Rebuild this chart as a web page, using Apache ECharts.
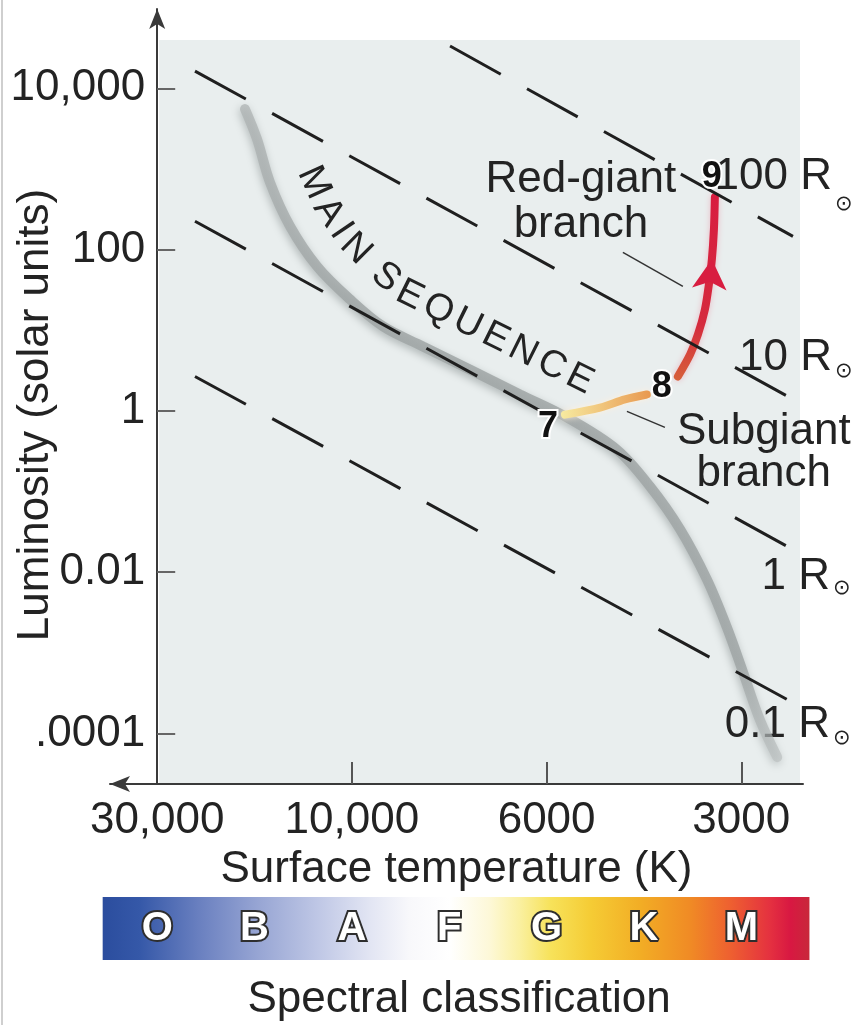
<!DOCTYPE html>
<html>
<head>
<meta charset="utf-8">
<title>H-R diagram: evolution of a Sun-like star</title>
<script src="https://cdn.jsdelivr.net/npm/echarts@6/dist/echarts.min.js"></script>
<style>
  html, body { margin: 0; padding: 0; background: #ffffff; }
  #chart { width: 862px; height: 1025px; }
</style>
</head>
<body>
<div id="chart"></div>
<script>
// ---- Axis ticks -------------------------------------------------------
const tempTicks = [30000, 10000, 6000, 3000];            // K
const tempTickLabels = ['30,000', '10,000', '6000', '3000'];
const lumTicks = [10000, 100, 1, 0.01, 0.0001];          // solar units
const lumTickLabels = ['10,000', '100', '1', '0.01', '.0001'];

// ---- Main sequence (temperature K, luminosity L_sun) -----------------
const mainSeqTemp = [18280, 17080, 15880, 14180, 12170, 10110, 9220, 8300, 7340, 6435,
                     5580, 4670, 4150, 3730, 3390, 3160, 2980, 2810, 2640];
const mainSeqLum  = [5520, 2340, 685, 195, 62, 24.2, 11.2, 6.3, 3.27, 1.60,
                     0.83, 0.33, 0.115, 0.034, 0.0081, 0.0021, 0.00057, 0.00015, 0.000051];

// ---- Subgiant branch (stage 7 -> 8) ----------------------------------
const subgiantTemp = [5620, 4960, 4540, 4200];
const subgiantLum  = [0.90, 1.10, 1.39, 1.60];

// ---- Red-giant branch (stage 8 -> 9) ---------------------------------
const redGiantTemp = [3760, 3600, 3500, 3415, 3367, 3331, 3307, 3296];
const redGiantLum  = [2.67, 5.0, 8.9, 18.1, 37, 76, 179, 446];

// ---- Lines of constant radius ----------------------------------------
const radiusNames     = ['100 R', '10 R', '1 R', '0.1 R'];
const radiusStartTemp = [7730, 24240, 24240, 24240];
const radiusStartLum  = [33400, 16350, 225, 2.67];
const radiusEndTemp   = [2496, 2541, 2541, 2541];
const radiusEndLum    = [146, 1.51, 0.0207, 0.000261];

// ---- Spectral classes and evolutionary stages ------------------------
const spectralClasses = ['O', 'B', 'A', 'F', 'G', 'K', 'M'];
const stageLabels = ['7', '8', '9'];

// ---------------------------------------------------------------------
const FONT = '"Liberation Sans", Arial, Helvetica, sans-serif';
const INK = '#232323';
const FS = 44;

// Temperature axis: log spacing between successive ticks, ticks evenly spaced
const logTempTicks = tempTicks.map(Math.log10);
function tempToAxis(T) {
  const lt = Math.log10(T);
  let i = 0;
  while (i < logTempTicks.length - 2 && lt < logTempTicks[i + 1]) i++;
  return i + (logTempTicks[i] - lt) / (logTempTicks[i] - logTempTicks[i + 1]);
}
const toPoint = (T, L) => [tempToAxis(T), Math.log10(L)];
const zip = (ts, ls) => ts.map((t, i) => toPoint(t, ls[i]));

const mainSeq = zip(mainSeqTemp, mainSeqLum);
const subgiant = zip(subgiantTemp, subgiantLum);
const redGiant = zip(redGiantTemp, redGiantLum);
const arrowIndex = 5;

const tempTickPos = tempTicks.map(tempToAxis);
const lumTickPos = lumTicks.map(Math.log10);

// grid geometry: 194.7 px per temperature tick step, 80.55 px per luminosity decade
const GRID_LEFT = 110, GRID_RIGHT = 59, GRID_TOP = 9, GRID_BOTTOM = 241;
const X_MIN = -0.2424, X_MAX = 3.3169;
const Y_MIN = -4.6257, Y_MAX = 4.9832;
const Y_AXIS_SHIFT = 47.2;   // temperature 30,000 K sits this far right of the grid edge

const chart = echarts.init(document.getElementById('chart'));

const series = [
  {
    name: 'Main sequence', type: 'line', data: mainSeq, smooth: 0.35,
    symbol: 'none', z: 2, silent: true,
    lineStyle: {
      width: 10, cap: 'round',
      color: new echarts.graphic.LinearGradient(0, 0, 0, 1, [
        { offset: 0, color: 'rgba(175,180,180,0.75)' },
        { offset: 0.3, color: 'rgba(160,166,166,0.85)' },
        { offset: 0.85, color: 'rgba(160,166,166,0.85)' },
        { offset: 1, color: 'rgba(185,190,190,0.6)' }
      ]),
      shadowBlur: 9, shadowColor: 'rgba(80,90,90,0.45)', shadowOffsetY: 3, shadowOffsetX: -1
    }
  },
  {
    name: 'Subgiant branch', type: 'line', data: subgiant, smooth: 0.3,
    symbol: 'none', z: 3, silent: true,
    lineStyle: {
      width: 8, cap: 'round',
      color: new echarts.graphic.LinearGradient(0, 0, 1, 0, [
        { offset: 0, color: '#f7eaa0' }, { offset: 1, color: '#e8984f' }
      ]),
      shadowBlur: 6, shadowColor: 'rgba(255,240,220,0.9)'
    }
  },
  {
    name: 'Red-giant branch', type: 'line', smooth: 0.3, z: 3, silent: true,
    symbol: 'circle', symbolSize: 0, showSymbol: true, showAllSymbol: true,
    data: redGiant.map((p, i) => i === arrowIndex
      ? { value: p, symbol: 'arrow', symbolSize: [26, 30], symbolRotate: -5,
          itemStyle: { color: '#d81d40' } }
      : p),
    lineStyle: {
      width: 8, cap: 'round',
      color: new echarts.graphic.LinearGradient(0, 0, 0, 1, [
        { offset: 0, color: '#d81c40' }, { offset: 0.7, color: '#d52a3d' },
        { offset: 1, color: '#d6603a' }
      ]),
      shadowBlur: 6, shadowColor: 'rgba(235,90,120,0.35)'
    }
  }
];

radiusNames.forEach((name, i) => {
  series.push({
    name: name, type: 'line', symbol: 'none', z: 4, silent: true,
    data: [toPoint(radiusStartTemp[i], radiusStartLum[i]),
           toPoint(radiusEndTemp[i], radiusEndLum[i])],
    lineStyle: { type: [58, 30], width: 3, color: '#1f1f1f', cap: 'butt' }
  });
});

const axisLineStyle = { color: '#3a3a3a', width: 2 };

chart.setOption({
  animation: false,
  backgroundColor: '#ffffff',
  grid: { left: GRID_LEFT, right: GRID_RIGHT, top: GRID_TOP, bottom: GRID_BOTTOM,
          containLabel: false, outerBoundsMode: 'none' },
  xAxis: {
    type: 'value', min: X_MIN, max: X_MAX,
    axisLine: { onZero: false, symbol: ['arrow', 'none'], symbolSize: [12, 20], lineStyle: axisLineStyle },
    axisTick: { show: true, inside: true, length: 22, customValues: tempTickPos.slice(1),
                lineStyle: { color: '#555', width: 2 } },
    axisLabel: {
      customValues: tempTickPos, margin: 15,
      formatter: v => tempTickLabels[tempTickPos.findIndex(p => Math.abs(p - v) < 1e-6)],
      fontSize: FS, color: INK, fontFamily: FONT
    },
    splitLine: { show: false },
    name: 'Surface temperature (K)', nameLocation: 'middle', nameGap: 57,
    nameTextStyle: { fontSize: FS, color: INK, fontFamily: FONT }
  },
  yAxis: {
    type: 'value', min: Y_MIN, max: Y_MAX, position: 'left', offset: -Y_AXIS_SHIFT,
    axisLine: { onZero: false, symbol: ['none', 'arrow'], symbolSize: [12, 20], lineStyle: axisLineStyle },
    axisTick: { show: true, inside: true, length: 18, customValues: lumTickPos,
                lineStyle: { color: '#666', width: 2 } },
    axisLabel: {
      customValues: lumTickPos, margin: 12,
      formatter: v => lumTickLabels[lumTickPos.findIndex(p => Math.abs(p - v) < 1e-6)],
      fontSize: FS, color: INK, fontFamily: FONT
    },
    splitLine: { show: false }
  },
  series: series
});

// ---- Annotations placed from data-space anchors ----------------------
function buildGraphics() {
  const px = p => chart.convertToPixel({ gridIndex: 0 }, p);
  const els = [];
  const text = (x, y, str, extra) => Object.assign({
    type: 'text', x: x, y: y, silent: true,
    style: Object.assign({ text: str, fill: INK, fontSize: FS, fontFamily: FONT,
                           align: 'center', verticalAlign: 'middle' }, extra || {})
  });

  // figure frame edge
  els.push({ type: 'line', silent: true, z: -2,
             shape: { x1: 2, y1: 0, x2: 2, y2: 1025 },
             style: { stroke: '#cfcfcf', lineWidth: 2 } });

  // plot panel
  const origin = px([0, Y_MIN]);
  els.push({ type: 'rect', silent: true, z: -1,
             shape: { x: origin[0] + 2, y: 40, width: 800 - origin[0] - 2, height: origin[1] - 40 },
             style: { fill: '#e9eeee' } });

  // axis title
  els.push(Object.assign(text(36, 415, 'Luminosity (solar units)'), { rotation: Math.PI / 2 }));

  // MAIN SEQUENCE lettering along the band
  const band = mainSeq.map(px);
  const gap = 40;
  const curve = band.map((p, i) => {
    const a = band[Math.max(0, i - 1)], b = band[Math.min(band.length - 1, i + 1)];
    const dx = b[0] - a[0], dy = b[1] - a[1], l = Math.hypot(dx, dy);
    return [p[0] + gap * dy / l, p[1] - gap * dx / l];
  });
  const cum = [0];
  for (let i = 1; i < curve.length; i++)
    cum.push(cum[i - 1] + Math.hypot(curve[i][0] - curve[i - 1][0], curve[i][1] - curve[i - 1][1]));
  const at = s => {
    let i = 1;
    while (i < curve.length - 1 && cum[i] < s) i++;
    const a = curve[i - 1], b = curve[i], t = (s - cum[i - 1]) / (cum[i] - cum[i - 1]);
    return { x: a[0] + (b[0] - a[0]) * t, y: a[1] + (b[1] - a[1]) * t,
             ang: Math.atan2(b[1] - a[1], b[0] - a[0]) };
  };
  const ctx = document.createElement('canvas').getContext('2d');
  const msSize = 38, msTrack = 4.5;
  ctx.font = msSize + 'px ' + FONT;
  const word = 'MAIN SEQUENCE';
  let s = cum[2] + 16;
  let prevHalf = null;
  for (const ch of word) {
    const w = ctx.measureText(ch).width;
    if (prevHalf !== null) s += prevHalf + w / 2 + (ch === ' ' ? 0 : msTrack);
    prevHalf = w / 2;
    if (ch === ' ') continue;
    const p = at(s);
    els.push(Object.assign(text(p.x, p.y, ch, { fontSize: msSize }), { rotation: -p.ang }));
  }

  // radius labels with solar symbol
  const radiusLayout = [
    { dx: 39, dy: -59, sunDy: 27 },
    { dx: 44, dy: -39, sunDy: 14 },
    { dx: 42, dy: 30, sunDy: 12 },
    { dx: 42, dy: 25, sunDy: 14 }
  ];
  radiusNames.forEach((name, i) => {
    const e = px(toPoint(radiusEndTemp[i], radiusEndLum[i]));
    const L = radiusLayout[i];
    els.push(text(e[0] + L.dx, e[1] + L.dy, name, { align: 'right' }));
    els.push(text(e[0] + L.dx + 3, e[1] + L.dy + L.sunDy, '\u2299',
                  { align: 'left', fontSize: 21, fontFamily: '"DejaVu Sans", sans-serif' }));
  });

  // region labels
  const rgArrow = px(redGiant[arrowIndex]);
  els.push(text(rgArrow[0] - 131, rgArrow[1] - 57, 'Red-giant\nbranch', { lineHeight: 45 }));
  const sgEnd = px(subgiant[subgiant.length - 1]);
  els.push(text(sgEnd[0] + 117, sgEnd[1] + 58, 'Subgiant\nbranch', { lineHeight: 42 }));

  // leader lines
  const rgLead = px(redGiant[4]);
  els.push({ type: 'line', silent: true, z: 5,
             shape: { x1: rgLead[0] - 86, y1: rgLead[1] - 32, x2: rgLead[0] - 26, y2: rgLead[1] + 2 },
             style: { stroke: '#333', lineWidth: 1.5 } });
  const sgLead = px(subgiant[2]);
  els.push({ type: 'line', silent: true, z: 5,
             shape: { x1: sgLead[0] + 2, y1: sgLead[1] + 12, x2: sgLead[0] + 40, y2: sgLead[1] + 28 },
             style: { stroke: '#333', lineWidth: 1.5 } });

  // stage numbers
  const stageAnchors = [
    { p: subgiant[0], dx: -17, dy: 12 },
    { p: subgiant[subgiant.length - 1], dx: 15, dy: -7 },
    { p: redGiant[redGiant.length - 1], dx: -3, dy: -20 }
  ];
  stageLabels.forEach((lab, i) => {
    const a = px(stageAnchors[i].p);
    els.push(Object.assign(text(a[0] + stageAnchors[i].dx, a[1] + stageAnchors[i].dy, lab, {
      fontSize: 36, fontWeight: 'bold', fill: '#111', stroke: '#ffffff', lineWidth: 4, strokeFirst: true
    }), { z: 10 }));
  });

  // spectral classification bar
  const barL = px([-0.28, 0])[0], barR = px([3.35, 0])[0];
  els.push({
    type: 'rect', silent: true,
    shape: { x: barL, y: 897, width: barR - barL, height: 63 },
    style: {
      fill: new echarts.graphic.LinearGradient(0, 0, 1, 0, [
        { offset: 0.000, color: '#2b4d9e' }, { offset: 0.052, color: '#3558a8' },
        { offset: 0.137, color: '#6a80c0' }, { offset: 0.222, color: '#98a6d4' },
        { offset: 0.307, color: '#c0c8e6' }, { offset: 0.378, color: '#e2e5f3' },
        { offset: 0.434, color: '#f8f8fb' }, { offset: 0.491, color: '#ffffff' },
        { offset: 0.547, color: '#fdf8d8' }, { offset: 0.590, color: '#faf0a0' },
        { offset: 0.634, color: '#f7e25a' }, { offset: 0.690, color: '#f5cc35' },
        { offset: 0.761, color: '#f2ad25' }, { offset: 0.832, color: '#f08a25' },
        { offset: 0.888, color: '#ee6030' }, { offset: 0.945, color: '#e43040' },
        { offset: 0.973, color: '#d81842' }, { offset: 1.000, color: '#c8283a' }
      ])
    }
  });
  spectralClasses.forEach((c, i) => {
    const x = px([i * 0.5, 0])[0];
    els.push(text(x, 929, c, { fontSize: 40, fontWeight: 'bold', fill: '#ffffff',
                               stroke: '#2e2e2e', lineWidth: 4, strokeFirst: true }));
  });
  els.push(text((barL + barR) / 2 + 3, 1000, 'Spectral classification'));

  chart.setOption({ graphic: { elements: els } });
}
buildGraphics();
</script>
</body>
</html>
